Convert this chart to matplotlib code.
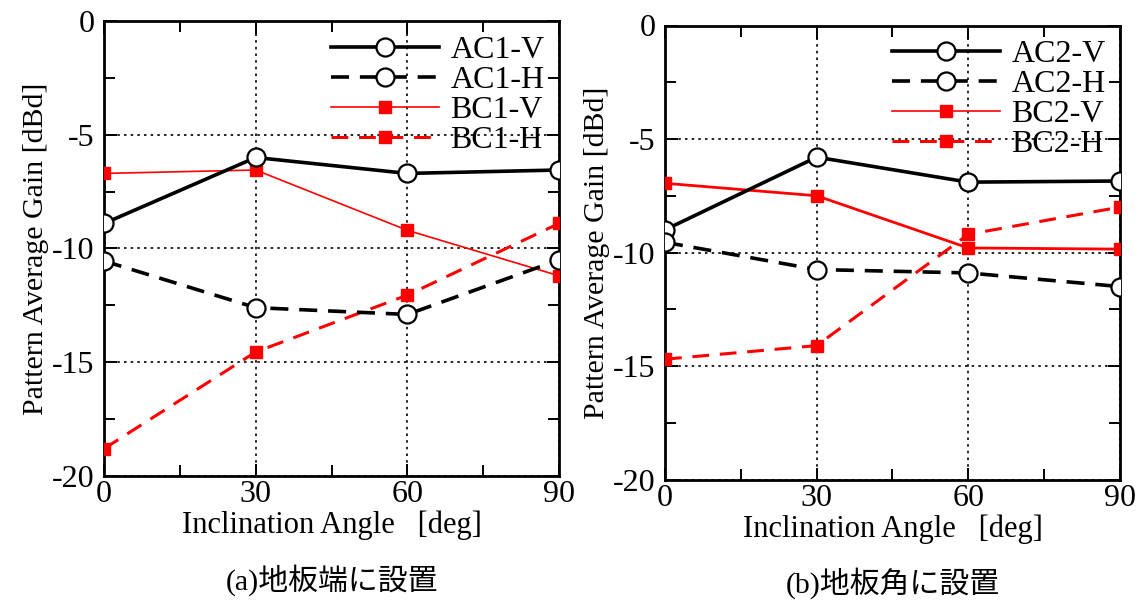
import matplotlib
matplotlib.use("Agg")
import matplotlib.pyplot as plt
from matplotlib.ticker import MultipleLocator

plt.rcParams['font.family'] = ['Liberation Serif', 'Noto Sans CJK JP']
plt.rcParams['axes.unicode_minus'] = False

angles = [0, 30, 60, 90]

# (a) mounted at the ground-plane edge
ac1_v = [-8.9, -6.0, -6.7, -6.55]
ac1_h = [-10.55, -12.6, -12.9, -10.5]
bc1_v = [-6.7, -6.55, -9.2, -11.2]
bc1_h = [-18.8, -14.55, -12.05, -8.9]

# (b) mounted at the ground-plane corner
ac2_v = [-9.0, -5.8, -6.9, -6.85]
ac2_h = [-9.55, -10.75, -10.9, -11.5]
bc2_v = [-6.95, -7.5, -9.8, -9.85]
bc2_h = [-14.7, -14.1, -9.2, -8.0]

labels_a = ['AC1-V', 'AC1-H', 'BC1-V', 'BC1-H']
labels_b = ['AC2-V', 'AC2-H', 'BC2-V', 'BC2-H']
captions = ['(a)地板端に設置', '(b)地板角に設置']

fig = plt.figure(figsize=(11.42, 6.0), dpi=100)
ax_a = fig.add_axes([0.0911, 0.2067, 0.3984, 0.7583])
ax_b = fig.add_axes([0.5823, 0.2008, 0.3984, 0.7567])


def draw_panel(ax, series, labels, red_lw, caption):
    v_a, h_a, v_b, h_b = series
    circ = dict(marker='o', markersize=13, markerfacecolor='white',
                markeredgecolor='black', markeredgewidth=1.6)
    sq = dict(marker='s', markersize=9, markerfacecolor='red',
              markeredgecolor='red')
    ax.plot(angles, v_a, color='black', lw=2.6, label=labels[0], zorder=4, **circ)
    ax.plot(angles, h_a, color='black', lw=2.6, ls=(0, (5, 3)),
            label=labels[1], zorder=4, **circ)
    ax.plot(angles, v_b, color='red', lw=red_lw, label=labels[2], zorder=3, **sq)
    ax.plot(angles, h_b, color='red', lw=2.2, ls=(0, (5.5, 3.5)),
            label=labels[3], zorder=3, **sq)

    ax.set_xlim(0, 90)
    ax.set_ylim(-20, 0)
    ax.xaxis.set_major_locator(MultipleLocator(30))
    ax.xaxis.set_minor_locator(MultipleLocator(15))
    ax.yaxis.set_major_locator(MultipleLocator(5))
    ax.yaxis.set_minor_locator(MultipleLocator(2.5))
    ax.tick_params(which='both', direction='in', top=True, right=True,
                   width=1.4, labelsize=23)
    ax.tick_params(axis='x', pad=3)
    ax.tick_params(axis='y', pad=7)
    ax.tick_params(which='major', length=9)
    ax.tick_params(which='minor', length=8)
    ax.grid(True, which='major', color='black', ls=(0, (1.5, 2.5)), lw=1.2)
    for sp in ax.spines.values():
        sp.set_linewidth(2.0)

    ax.set_xlabel('Inclination Angle   [deg]', fontsize=22, labelpad=1)
    ax.set_ylabel('Pattern Average Gain [dBd]', fontsize=21.5, labelpad=2)
    ax.text(0.5, -0.228, caption, transform=ax.transAxes, ha='center',
            va='center', fontsize=21.5)

    leg = ax.legend(loc='upper right', frameon=False, fontsize=23,
                    handlelength=3.4, handletextpad=0.35, labelspacing=0.02,
                    borderaxespad=0.15, borderpad=0.3, numpoints=1)
    leg.get_lines()[2].set_linewidth(1.2)


draw_panel(ax_a, (ac1_v, ac1_h, bc1_v, bc1_h), labels_a, 1.2, captions[0])
draw_panel(ax_b, (ac2_v, ac2_h, bc2_v, bc2_h), labels_b, 2.0, captions[1])

fig.savefig('out.png', dpi=100)
